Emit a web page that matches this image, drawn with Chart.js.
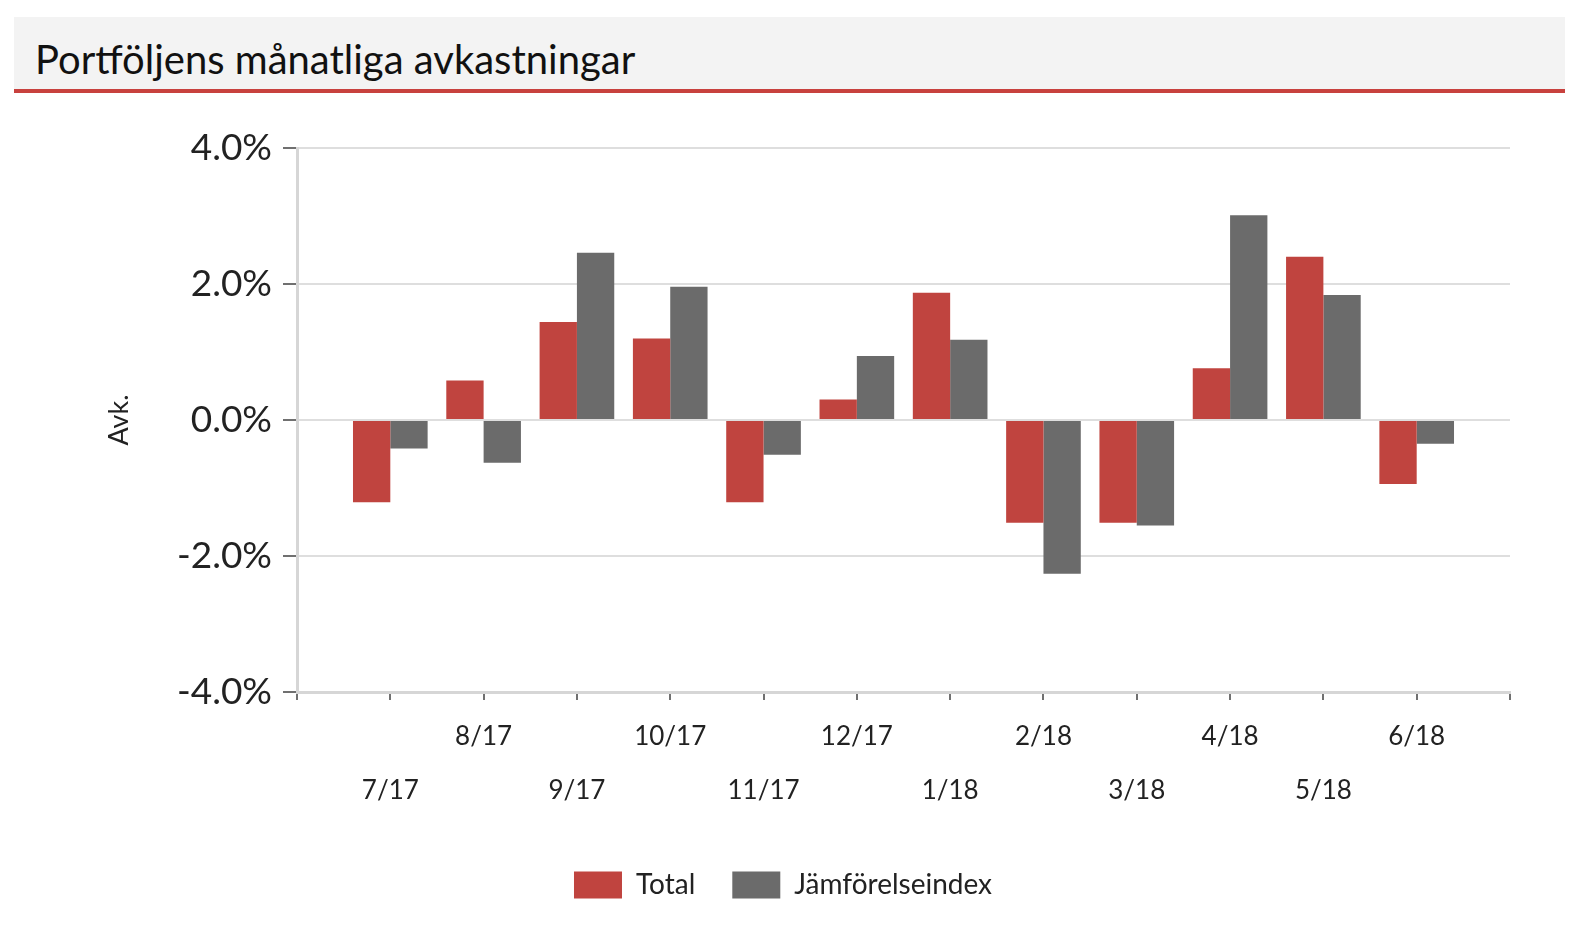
<!DOCTYPE html>
<html>
<head>
<meta charset="utf-8">
<script src="https://cdn.jsdelivr.net/npm/chart.js@4.4.1/dist/chart.umd.min.js"></script>
<style>
  html, body { margin: 0; padding: 0; background: #ffffff; }
  body { width: 1580px; height: 944px; position: relative; overflow: hidden; font-family: Lato, "Open Sans", sans-serif; }
  #titlebar { position: absolute; left: 14px; top: 17px; width: 1551px; height: 72px; background: #f3f3f3; border-bottom: 4px solid #c8413e; }
  #titlebar span { position: absolute; left: 21px; top: 19px; font-size: 40px; line-height: 46px; color: #111111; white-space: nowrap; }
  #chart { position: absolute; left: 0; top: 0; }
</style>
</head>
<body>
<div id="titlebar"><span>Portföljens månatliga avkastningar</span></div>
<canvas id="chart" width="1580" height="944"></canvas>
<script>
// ---- data ----
const months = ['7/17', '8/17', '9/17', '10/17', '11/17', '12/17', '1/18', '2/18', '3/18', '4/18', '5/18', '6/18'];
const totalValues = [-1.21, 0.58, 1.44, 1.20, -1.21, 0.30, 1.87, -1.51, -1.51, 0.76, 2.40, -0.94];
const indexValues = [-0.42, -0.63, 2.46, 1.96, -0.51, 0.94, 1.18, -2.26, -1.55, 3.01, 1.84, -0.35];
const yTicks = [-4, -2, 0, 2, 4];
const seriesNames = ['Total', 'Jämförelseindex'];

// pad one empty slot at each end so bars sit on inner tick marks
const labels = [''].concat(months, ['']);
const padded = arr => [null].concat(arr, [null]);

const RED = '#c0443f';
const GRAY = '#6b6b6b';

new Chart(document.getElementById('chart'), {
  type: 'bar',
  data: {
    labels: labels,
    datasets: [
      { label: seriesNames[0], data: padded(totalValues), backgroundColor: RED, borderWidth: 0 },
      { label: seriesNames[1], data: padded(indexValues), backgroundColor: GRAY, borderWidth: 0 }
    ]
  },
  options: {
    responsive: false,
    animation: false,
    devicePixelRatio: 1,
    layout: { padding: { top: 148, right: 70, left: 56, bottom: 35 } },
    datasets: { bar: { categoryPercentage: 0.8, barPercentage: 1.0 } },
    plugins: {
      legend: {
        position: 'bottom',
        labels: {
          boxWidth: 48,
          boxHeight: 27,
          padding: 37,
          color: '#222222',
          font: { family: 'Lato', size: 28 }
        }
      },
      tooltip: { enabled: false }
    },
    scales: {
      x: {
        offset: false,
        grid: { offset: false, drawOnChartArea: false, drawTicks: true, tickLength: 8, tickColor: '#707070', lineWidth: 2 },
        border: { color: '#d6d6d6', width: 3 },
        ticks: {
          autoSkip: false,
          maxRotation: 0,
          minRotation: 0,
          padding: 10,
          color: '#222222',
          font: { family: 'Lato', size: 26, lineHeight: 2.077 },
          callback: function (value, index) {
            const lab = labels[index];
            if (!lab) return '';
            return (index % 2 === 1) ? ['', lab] : [lab, ''];
          }
        },
        afterFit: function (scale) { scale.height = 142; }
      },
      y: {
        min: -4,
        max: 4,
        afterBuildTicks: function (scale) { scale.ticks = yTicks.map(v => ({ value: v })); },
        grid: { color: '#dedede', lineWidth: 2, tickLength: 14, tickColor: '#707070' },
        border: { color: '#d6d6d6', width: 3 },
        ticks: {
          padding: 11,
          color: '#222222',
          font: { family: 'Lato', size: 37 },
          callback: v => v.toFixed(1) + '%'
        },
        title: {
          display: true,
          text: 'Avk.',
          color: '#222222',
          font: { family: 'Lato', size: 27 },
          padding: { top: 47, bottom: 4 }
        },
        afterFit: function (scale) { scale.width = 241; }
      }
    }
  }
});
</script>
</body>
</html>
